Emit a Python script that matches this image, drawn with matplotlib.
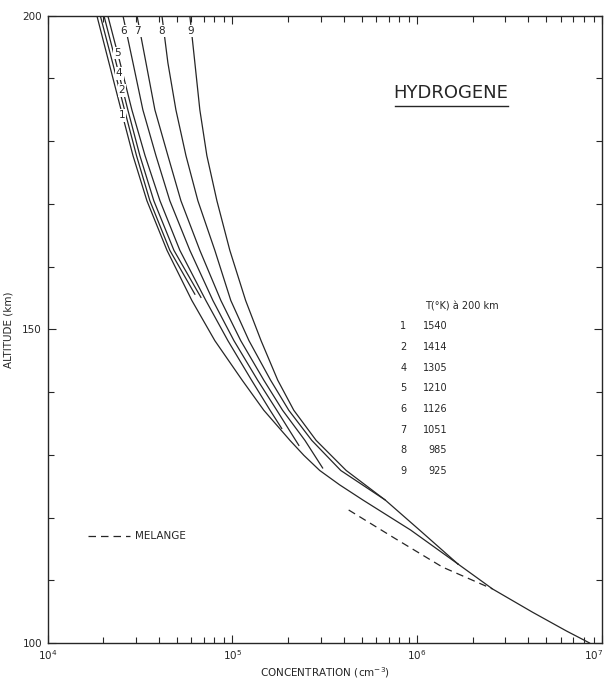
import matplotlib
matplotlib.use("Agg")
import matplotlib.pyplot as plt
import matplotlib.transforms as mtransforms
from matplotlib.ticker import FixedLocator, LogLocator, NullFormatter, FixedFormatter

# altitude (km) and H concentration (cm-3)
c1_z = [200, 192.5, 185, 177.7, 170.5, 162.6, 154.6, 148.2, 141.9, 137.1, 132.3, 129.9, 127.5, 125.2, 122.8, 118.0, 112.6]
c1_n = [1.85e4, 2.15e4, 2.50e4, 2.90e4, 3.45e4, 4.43e4, 6.04e4, 8.04e4, 1.13e5, 1.48e5, 2.05e5, 2.44e5, 2.97e5, 3.81e5, 5.08e5, 9.22e5, 1.66e6]
c9_z = [200, 192.5, 185, 177.7, 170.5, 162.6, 154.6, 148.2, 141.9, 137.1, 132.3, 127.5, 122.8, 118.0, 112.6]
c9_n = [5.89e4, 6.27e4, 6.67e4, 7.28e4, 8.25e4, 9.69e4, 1.18e5, 1.43e5, 1.76e5, 2.15e5, 2.84e5, 4.13e5, 6.71e5, 1.03e6, 1.66e6]
c8_z = [200, 192.5, 185, 177.7, 170.5, 162.6, 154.6, 148.2, 141.9, 137.1, 132.3, 127.5, 122.8]
c8_n = [4.16e4, 4.48e4, 4.95e4, 5.61e4, 6.51e4, 8.04e4, 9.81e4, 1.23e5, 1.61e5, 2.02e5, 2.69e5, 3.86e5, 6.71e5]
c7_z = [200, 192.5, 185, 177.7, 170.5, 162.6, 154.6, 148.2, 141.9, 137.1, 132.3, 127.9]
c7_n = [3.05e4, 3.41e4, 3.81e4, 4.48e4, 5.27e4, 6.67e4, 8.67e4, 1.11e5, 1.48e5, 1.87e5, 2.47e5, 3.08e5]
c6_z = [200, 192.5, 185, 177.7, 170.5, 162.6, 154.6, 148.2, 141.9, 137.1, 131.5]
c6_n = [2.56e4, 2.90e4, 3.28e4, 3.86e4, 4.59e4, 5.89e4, 7.85e4, 1.02e5, 1.37e5, 1.74e5, 2.29e5]
c5_z = [200, 192.5, 185, 177.7, 170.5, 162.6, 154.6, 148.2, 141.9, 137.1, 134.2]
c5_n = [2.12e4, 2.47e4, 2.86e4, 3.37e4, 4.06e4, 5.20e4, 7.19e4, 9.46e4, 1.27e5, 1.60e5, 1.85e5]
c4_z = [200, 192.5, 185, 177.7, 170.5, 162.6, 155.1]
c4_n = [2.02e4, 2.35e4, 2.72e4, 3.16e4, 3.76e4, 4.83e4, 6.76e4]
c2_z = [200, 192.5, 185, 177.7, 170.5, 162.6, 155.6]
c2_n = [1.93e4, 2.25e4, 2.61e4, 3.03e4, 3.58e4, 4.59e4, 6.27e4]
# common profile below ~113 km
low_z = [112.6, 108.6, 104.9, 101.9, 100]
low_n = [1.66e6, 2.56e6, 4.21e6, 6.43e6, 8.56e6]
# mixing (MELANGE) profile
mel_z = [121.2, 116.7, 112.1, 108.6]
mel_n = [4.26e5, 7.55e5, 1.37e6, 2.56e6]

solid = [(c1_z, c1_n), (c2_z, c2_n), (c4_z, c4_n), (c5_z, c5_n), (c6_z, c6_n),
         (c7_z, c7_n), (c8_z, c8_n), (c9_z, c9_n), (low_z, low_n)]

# curve number labels (concentration, altitude)
lab_names = ["1", "2", "4", "5", "6", "7", "8", "9"]
lab_n = [2.53e4, 2.53e4, 2.44e4, 2.40e4, 2.59e4, 3.07e4, 4.16e4, 5.92e4]
lab_z = [184.1, 188.1, 190.8, 194.1, 197.6, 197.6, 197.6, 197.6]

legend_ids = ["1", "2", "4", "5", "6", "7", "8", "9"]
legend_temps = ["1540", "1414", "1305", "1210", "1126", "1051", "985", "925"]

INK = "#262626"
plt.rcParams["font.family"] = "DejaVu Sans"
fig = plt.figure(figsize=(6.06, 6.84), dpi=100)
ax = fig.add_axes([0.0784, 0.060, 0.9150, 0.917])

for z, n in solid:
    ax.plot(n, z, color=INK, lw=0.9)
ax.plot(mel_n, mel_z, color=INK, lw=0.9, ls=(0, (6, 4)))

for name, n, z in zip(lab_names, lab_n, lab_z):
    ax.text(n, z, name, fontsize=7.5, ha="center", va="center", color=INK,
            bbox=dict(facecolor="white", edgecolor="none", pad=0.8))

ax.set_xscale("log")
ax.set_xlim(1e4, 1e7)
ax.set_ylim(100, 200)
ax.xaxis.set_major_locator(FixedLocator([1e4, 1e5, 1e6, 1e7]))
ax.xaxis.set_major_formatter(FixedFormatter(["$10^4$", "$10^5$", "$10^6$", "$10^7$"]))
ax.xaxis.set_minor_locator(LogLocator(base=10, subs=range(2, 10)))
ax.xaxis.set_minor_formatter(NullFormatter())
ax.yaxis.set_major_locator(FixedLocator([100, 150, 200]))
ax.yaxis.set_minor_locator(FixedLocator(range(100, 201, 10)))
ax.tick_params(which="both", direction="in", top=True, right=True, labelsize=7.5,
               width=0.8, colors=INK, pad=4)
ax.tick_params(which="major", length=6)
ax.tick_params(which="minor", length=4)
for s in ax.spines.values():
    s.set_linewidth(1.0)
    s.set_color(INK)

# last x tick label sits on the figure edge: nudge it inside
lbl = ax.get_xticklabels()[-1]
lbl.set_transform(lbl.get_transform() + mtransforms.ScaledTranslation(-6 / 72, 0, fig.dpi_scale_trans))

ax.set_xlabel("CONCENTRATION (cm$^{-3}$)", fontsize=7.5, labelpad=2, color=INK)
ax.set_ylabel("ALTITUDE (km)", fontsize=7.5, labelpad=6, color=INK)

ax.text(0.728, 0.877, "HYDROGENE", transform=ax.transAxes, fontsize=13,
        ha="center", va="center", color=INK)
ax.plot([0.627, 0.831], [0.856, 0.856], transform=ax.transAxes, color=INK, lw=1.0)

ax.text(0.681, 0.536, "T(°K) à 200 km", transform=ax.transAxes, fontsize=7, va="center", color=INK)
for i, (k, t) in enumerate(zip(legend_ids, legend_temps)):
    y = 0.505 - i * 0.033
    ax.text(0.636, y, k, transform=ax.transAxes, fontsize=7, va="center", color=INK)
    ax.text(0.721, y, t, transform=ax.transAxes, fontsize=7, va="center", ha="right", color=INK)

ax.plot([0.073, 0.149], [0.171, 0.171], transform=ax.transAxes, color=INK,
        lw=0.9, ls=(0, (6, 4)))
ax.text(0.158, 0.171, "MELANGE", transform=ax.transAxes, fontsize=7.5, va="center", color=INK)

fig.savefig("out.png", dpi=100)
